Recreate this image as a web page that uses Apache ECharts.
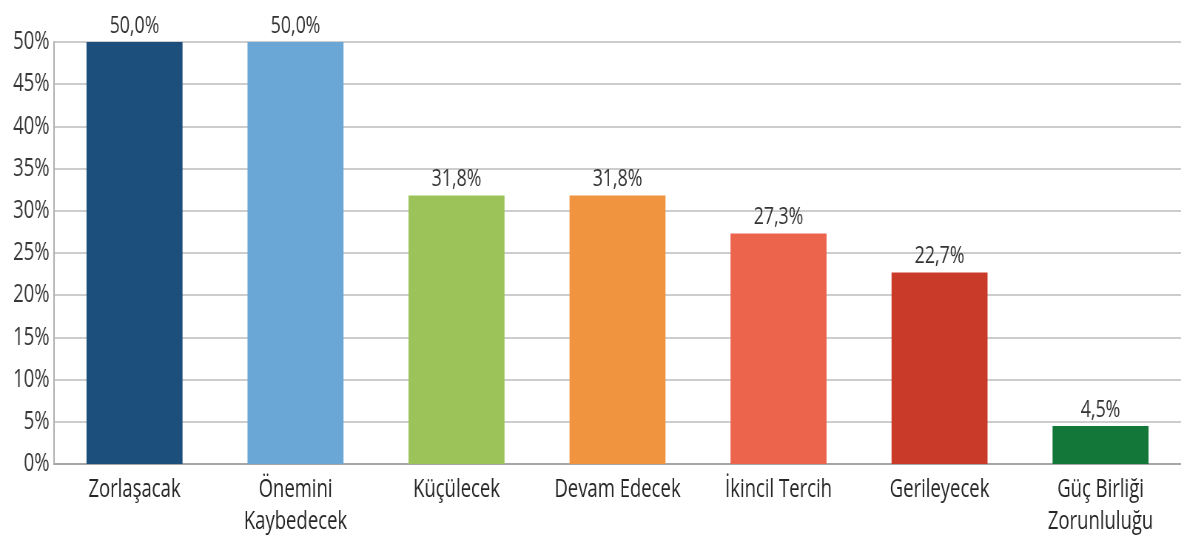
<!DOCTYPE html>
<html>
<head>
<meta charset="utf-8">
<script src="https://cdn.jsdelivr.net/npm/echarts@6/dist/echarts.min.js"></script>
<style>
  html, body { margin: 0; padding: 0; background: #ffffff; overflow: hidden; }
  #wrap { width: 1181px; height: 550px; overflow: hidden; }
  /* chart is laid out wide and squeezed horizontally to get the narrow lettering */
  #chart { width: 1596px; height: 550px; transform: scaleX(0.74); transform-origin: 0 0; }
</style>
</head>
<body>
<div id="wrap"><div id="chart"></div></div>
<script>
// Survey answers and their shares (%)
const categories = ['Zorlaşacak', 'Önemini\nKaybedecek', 'Küçülecek', 'Devam Edecek', 'İkincil Tercih', 'Gerileyecek', 'Güç Birliği\nZorunluluğu'];
const values = [50.0, 50.0, 31.8, 31.8, 27.3, 22.7, 4.5];
const barColors = ['#1d4f7c', '#6aa6d6', '#9bc35a', '#f0943f', '#ec644c', '#c93a28', '#13773a'];
const yTicks = { min: 0, max: 50, step: 5 };

const squeeze = 0.74;
const fontFamily = '"Open Sans", "Noto Sans", sans-serif';

const chart = echarts.init(document.getElementById('chart'), null, { renderer: 'canvas' });
chart.setOption({
  animation: false,
  backgroundColor: '#ffffff',
  grid: { left: 54 / squeeze, right: -5 / squeeze, top: 42, bottom: 86, containLabel: false },
  xAxis: {
    type: 'category',
    data: categories,
    axisLine: { show: true, lineStyle: { color: '#a6a6a6', width: 2 } },
    axisTick: { show: false },
    axisLabel: {
      color: '#262626', fontFamily: fontFamily, fontSize: 25,
      margin: 10, lineHeight: 32, interval: 0
    }
  },
  yAxis: {
    type: 'value',
    min: yTicks.min, max: yTicks.max, interval: yTicks.step,
    axisLine: { show: true, lineStyle: { color: '#b0b0b0', width: 2 } },
    axisTick: { show: false },
    splitLine: { show: true, lineStyle: { color: '#bdbdbd', width: 1.5 } },
    axisLabel: {
      color: '#383838', fontFamily: fontFamily, fontSize: 25, margin: 6,
      padding: [4, 0, 0, 0],
      formatter: v => v + '%'
    }
  },
  series: [{
    type: 'bar',
    data: values.map((v, i) => ({ value: v, itemStyle: { color: barColors[i] } })),
    barWidth: 96 / squeeze,
    label: {
      show: true, position: 'top', distance: 4,
      color: '#333333', fontFamily: fontFamily, fontSize: 24,
      formatter: p => p.value.toFixed(1).replace('.', ',') + '%'
    }
  }]
});
</script>
</body>
</html>
